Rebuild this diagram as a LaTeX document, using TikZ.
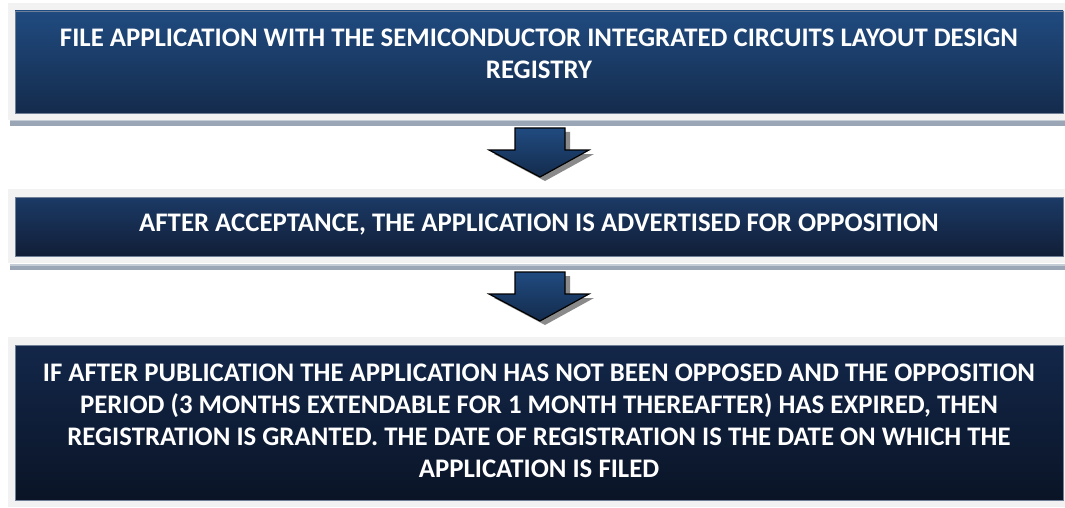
\documentclass[tikz,border=0pt]{standalone}
\usepackage{fontspec}
\usetikzlibrary{calc}
\setmainfont{Carlito}
\definecolor{frameg}{HTML}{F2F2F2}
\definecolor{barg}{HTML}{9AA6B6}
\definecolor{barl}{HTML}{C4CCD6}
\definecolor{edgeb}{HTML}{6F7F96}
\definecolor{aTop}{HTML}{204B80}
\definecolor{aBot}{HTML}{142B4C}
\definecolor{bTop}{HTML}{1B3A66}
\definecolor{bBot}{HTML}{111E37}
\definecolor{cTop}{HTML}{13274A}
\definecolor{cBot}{HTML}{0A1426}
\definecolor{shadowg}{HTML}{8A8A8A}
\begin{document}
\begin{tikzpicture}[x=1pt,y=-1pt,
  frame/.style={fill=frameg,draw=none},
  bar/.style={fill=barg,draw=none},
  inner/.style={draw=edgeb,line width=0.8pt},
  label/.style={text=white,font=\fontsize{26.8}{32}\selectfont\bfseries,align=center,inner sep=0pt},
  blockarrow/.style={draw=black,line width=1.2pt,line join=miter,top color=aTop,bottom color=aBot},
  arrowshadow/.style={fill=shadowg,draw=none}]
\useasboundingbox (0,0) rectangle (1065,508);
% box 1
\fill[bar] (10,120) rectangle (1065,126);
\fill[barl] (10,120) rectangle (1065,121.5);
\fill[frame] (8,3) rectangle (1065,120);
\shade[inner,top color=aTop,bottom color=aBot] (15,11) rectangle (1063,113);
\node[label] (t1) at (539,54) {FILE APPLICATION WITH THE SEMICONDUCTOR INTEGRATED CIRCUITS LAYOUT DESIGN\\REGISTRY};
% box 2
\fill[bar] (10,264) rectangle (1065,270);
\fill[barl] (10,264) rectangle (1065,265.5);
\fill[frame] (8,189) rectangle (1065,263);
\shade[inner,top color=bTop,bottom color=bBot] (15,197) rectangle (1063,256);
\node[label] (t2) at (539,225) {AFTER ACCEPTANCE, THE APPLICATION IS ADVERTISED FOR OPPOSITION};
% box 3
\fill[frame] (8,337) rectangle (1065,507);
\shade[inner,top color=cTop,bottom color=cBot] (15,345) rectangle (1063,500);
\node[label] (t3) at (539,421) {IF AFTER PUBLICATION THE APPLICATION HAS NOT BEEN OPPOSED AND THE OPPOSITION\\PERIOD (3 MONTHS EXTENDABLE FOR 1 MONTH THEREAFTER) HAS EXPIRED, THEN\\REGISTRATION IS GRANTED. THE DATE OF REGISTRATION IS THE DATE ON WHICH THE\\APPLICATION IS FILED};
% arrows
\foreach \yy/\nm in {128/a1,272/a2}{
  \coordinate (\nm) at (540,\yy);
  \fill[arrowshadow] ($(\nm)+(-20,4)$) -- ++(50,0) -- ++(0,22) -- ++(24,0) -- ++(-49,27) -- ++(-51,-27) -- ++(26,0) -- cycle;
  \draw[blockarrow] ($(\nm)+(-25,0)$) -- ++(50,0) -- ++(0,22) -- ++(24,0) -- ++(-49,27) -- ++(-51,-27) -- ++(26,0) -- cycle;
}
\end{tikzpicture}
\end{document}
